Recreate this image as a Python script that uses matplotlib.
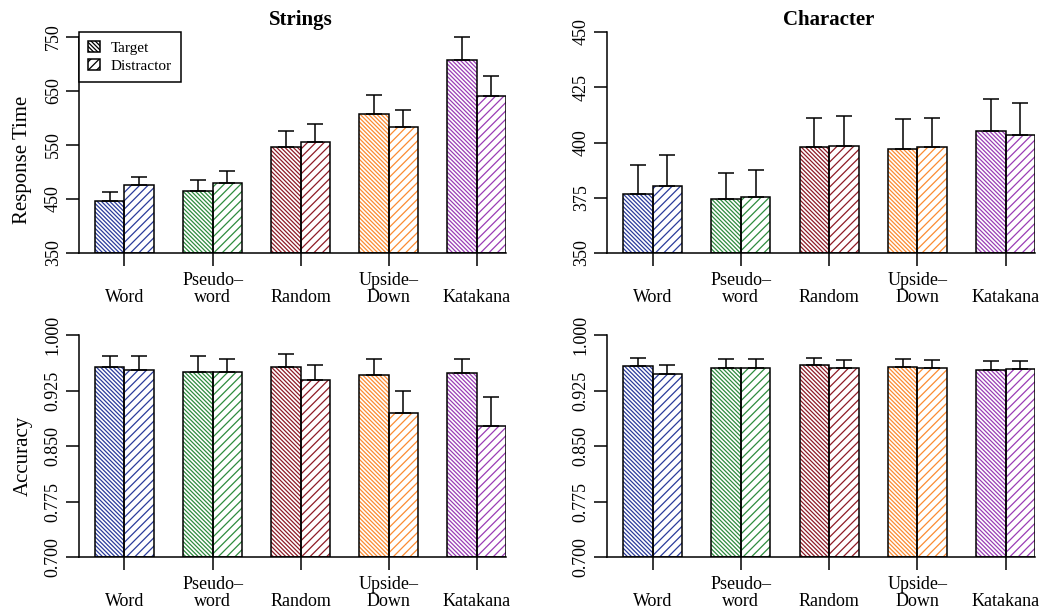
import numpy as np
import matplotlib
matplotlib.use("Agg")
import matplotlib.pyplot as plt
import matplotlib.transforms as mtrans
from matplotlib.patches import Patch

plt.rcParams['font.family'] = ['Liberation Serif', 'DejaVu Serif']
plt.rcParams['hatch.linewidth'] = 0.9

# data
categories = ["Word", "Pseudo\u2013\nword", "Random", "Upside\u2013\nDown", "Katakana"]
colors = ['#2b3c9b', '#2e8b3e', '#8e1b26', '#fb8b32', '#9a3db5']

rt_str_target = [446, 464, 546, 607, 708]
rt_str_target_err = [17, 21, 30, 36, 42]
rt_str_dist = [476, 480, 555, 584, 640]
rt_str_dist_err = [15, 21, 33, 31, 37]

rt_chr_target = [376.8, 374.4, 397.8, 397.1, 405.3]
rt_chr_target_err = [13.0, 11.8, 13.4, 13.5, 14.2]
rt_chr_dist = [380.4, 375.4, 398.3, 398.1, 403.5]
rt_chr_dist_err = [13.8, 12.3, 13.8, 12.8, 14.5]

acc_str_target = [0.957, 0.950, 0.957, 0.946, 0.948]
acc_str_target_err = [0.015, 0.021, 0.018, 0.022, 0.020]
acc_str_dist = [0.953, 0.950, 0.939, 0.894, 0.877]
acc_str_dist_err = [0.018, 0.017, 0.020, 0.030, 0.039]

acc_chr_target = [0.958, 0.956, 0.959, 0.957, 0.953]
acc_chr_target_err = [0.011, 0.011, 0.010, 0.010, 0.012]
acc_chr_dist = [0.947, 0.956, 0.956, 0.955, 0.954]
acc_chr_dist_err = [0.012, 0.011, 0.010, 0.011, 0.011]

rt_str_ticks = [350, 450, 550, 650, 750]
rt_chr_ticks = [350, 375, 400, 425, 450]
acc_ticks = [0.700, 0.775, 0.850, 0.925, 1.000]

HATCH_T = '\\' * 8
HATCH_D = '////'
LW = 1.1

W, H = 1055, 611
fig = plt.figure(figsize=(W / 100, H / 100), dpi=100)


def px_axes(left, right, top, bottom):
    return fig.add_axes([left / W, 1 - bottom / H, (right - left) / W, (bottom - top) / H])


def panel(ax, target, terr, dist, derr, ticks, labels, title=None, ylabel=None, ylabel_y=0.45):
    n = len(categories)
    grp = np.arange(n) * 3
    xt = 1.5 + grp
    xd = 2.5 + grp
    lo = ticks[0]
    t = np.array(target)
    d = np.array(dist)
    for x, vals, hatch in ((xt, t, HATCH_T), (xd, d, HATCH_D)):
        ax.bar(x, vals - lo, bottom=lo, width=1.0, color='white', edgecolor=colors,
               hatch=hatch, linewidth=0, zorder=2)
        ax.bar(x, vals - lo, bottom=lo, width=1.0, fill=False, edgecolor='black',
               linewidth=LW, zorder=3)
    for x, vals, err in ((xt, t, terr), (xd, d, derr)):
        ax.errorbar(x, vals, yerr=[np.zeros(n), err], fmt='none', ecolor='black',
                    elinewidth=LW, capsize=6, capthick=LW, zorder=4, clip_on=False)

    ax.set_xlim(0.45, 15.0)
    ax.set_ylim(ticks[0], ticks[-1])
    ax.set_yticks(ticks)
    ax.set_yticklabels(labels, rotation=90, va='center')
    ax.set_xticks(2 + grp)
    ax.set_xticklabels([])
    ax.tick_params(length=9.4, width=LW, labelsize=13, direction='out')
    ax.tick_params(axis='y', pad=3)
    for s in ('top', 'right'):
        ax.spines[s].set_visible(False)
    for s in ('left', 'bottom'):
        ax.spines[s].set_linewidth(LW)

    off = ax.get_xaxis_transform() + mtrans.ScaledTranslation(0, -0.53, fig.dpi_scale_trans)
    for xc, lab in zip(2 + grp, categories):
        ax.text(xc, 0, lab, transform=off, ha='center', va='bottom', fontsize=13,
                linespacing=1.0)

    if title:
        tr = mtrans.blended_transform_factory(ax.transData, fig.transFigure)
        ax.text(8.0, 1 - 20 / H, title, transform=tr, ha='center', va='center',
                fontsize=15, fontweight='bold')
    if ylabel:
        ax.set_ylabel(ylabel, fontsize=15)
        ax.yaxis.set_label_coords(-0.109, ylabel_y)


ax1 = px_axes(79, 506, 37, 253)
panel(ax1, rt_str_target, rt_str_target_err, rt_str_dist, rt_str_dist_err,
      rt_str_ticks, [str(v) for v in rt_str_ticks], title='Strings',
      ylabel='Response Time', ylabel_y=0.43)

ax2 = px_axes(607, 1035, 32, 253)
panel(ax2, rt_chr_target, rt_chr_target_err, rt_chr_dist, rt_chr_dist_err,
      rt_chr_ticks, [str(v) for v in rt_chr_ticks], title='Character')

ax3 = px_axes(79, 506, 335, 557)
panel(ax3, acc_str_target, acc_str_target_err, acc_str_dist, acc_str_dist_err,
      acc_ticks, ['%.3f' % v for v in acc_ticks], ylabel='Accuracy', ylabel_y=0.455)

ax4 = px_axes(607, 1035, 335, 557)
panel(ax4, acc_chr_target, acc_chr_target_err, acc_chr_dist, acc_chr_dist_err,
      acc_ticks, ['%.3f' % v for v in acc_ticks])

handles = [Patch(facecolor='white', edgecolor='black', hatch=HATCH_T, linewidth=LW),
           Patch(facecolor='white', edgecolor='black', hatch=HATCH_D, linewidth=LW)]
leg = fig.legend(handles, ['Target', 'Distractor'], loc='upper left',
                 bbox_to_anchor=(79 / W, 1 - 32 / H), fontsize=11, fancybox=False,
                 edgecolor='black', framealpha=1, borderaxespad=0, borderpad=0.6,
                 handletextpad=0.7, labelspacing=0.25, handlelength=0.75,
                 handleheight=0.75)
leg.get_frame().set_linewidth(LW)

fig.savefig('out.png', dpi=100)
